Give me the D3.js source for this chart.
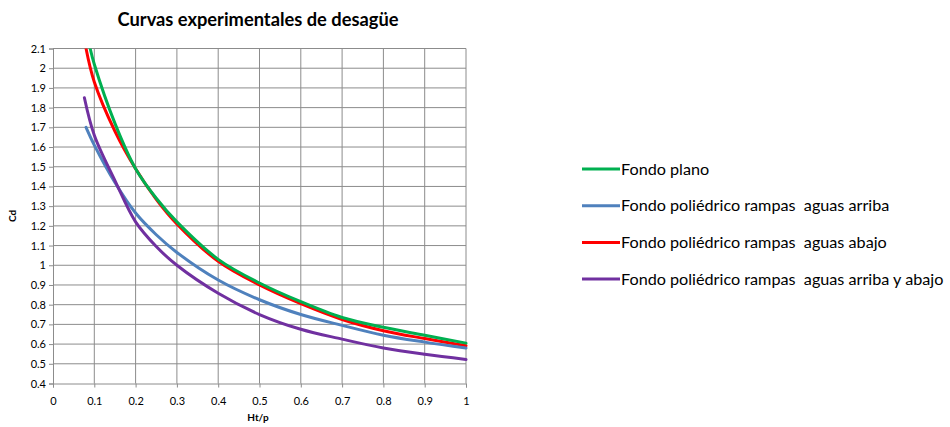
<!DOCTYPE html>
<html>
<head>
<meta charset="utf-8">
<script src="https://cdn.jsdelivr.net/npm/d3@7"></script>
<style>
  body { margin: 0; background: #fff; }
  text { font-family: Lato, "Open Sans", sans-serif; fill: #000; }
</style>
</head>
<body>
<div id="chart"></div>
<script>
// Datos
const seriesNames = ['Fondo plano', 'Fondo poliédrico rampas  aguas arriba', 'Fondo poliédrico rampas  aguas abajo', 'Fondo poliédrico rampas  aguas arriba y abajo'];
const seriesColors = ['#00b050', '#4f81bd', '#ff0000', '#7030a0'];

const planoX = [0.09, 0.1, 0.15, 0.2, 0.25, 0.3, 0.4, 0.5, 0.6, 0.7, 0.8, 0.9, 1.0];
const planoY = [2.1, 2.02, 1.72, 1.49, 1.34, 1.22, 1.03, 0.91, 0.815, 0.735, 0.685, 0.645, 0.605];
const arribaX = [0.08, 0.1, 0.15, 0.2, 0.25, 0.3, 0.4, 0.5, 0.6, 0.7, 0.8, 0.9, 1.0];
const arribaY = [1.7, 1.61, 1.42, 1.265, 1.155, 1.065, 0.925, 0.825, 0.75, 0.695, 0.645, 0.61, 0.58];
const abajoX = [0.08, 0.1, 0.15, 0.2, 0.25, 0.3, 0.4, 0.5, 0.6, 0.7, 0.8, 0.9, 1.0];
const abajoY = [2.1, 1.93, 1.68, 1.49, 1.335, 1.21, 1.02, 0.9, 0.805, 0.725, 0.668, 0.628, 0.592];
const ambosX = [0.076, 0.1, 0.15, 0.2, 0.25, 0.3, 0.4, 0.5, 0.6, 0.7, 0.8, 0.9, 1.0];
const ambosY = [1.85, 1.66, 1.43, 1.22, 1.095, 1.0, 0.858, 0.75, 0.675, 0.625, 0.58, 0.548, 0.522];

const xTicks = [0, 0.1, 0.2, 0.3, 0.4, 0.5, 0.6, 0.7, 0.8, 0.9, 1];
const yTicks = [0.4, 0.5, 0.6, 0.7, 0.8, 0.9, 1, 1.1, 1.2, 1.3, 1.4, 1.5, 1.6, 1.7, 1.8, 1.9, 2, 2.1];

const config = {
  width: 950,
  height: 427,
  plot: { left: 53, right: 466, top: 48.5, bottom: 383.5 },
  legend: { x: 582, y: 169, step: 36.7, lineLen: 38 }
};

const svg = d3.select('#chart').append('svg')
  .attr('width', config.width)
  .attr('height', config.height);

const xScale = d3.scaleLinear().domain([0, 1]).range([config.plot.left, config.plot.right]);
const yScale = d3.scaleLinear().domain([0.4, 2.1]).range([config.plot.bottom, config.plot.top]);

// Rejilla
const grid = svg.append('g').attr('class', 'grid');
grid.selectAll('line.v')
  .data(xTicks.slice(1))
  .enter().append('line')
  .attr('x1', d => xScale(d)).attr('x2', d => xScale(d))
  .attr('y1', config.plot.top).attr('y2', config.plot.bottom)
  .attr('stroke', '#8c8c8c').attr('stroke-width', 1);
grid.selectAll('line.h')
  .data(yTicks.slice(1))
  .enter().append('line')
  .attr('x1', config.plot.left).attr('x2', config.plot.right)
  .attr('y1', d => yScale(d)).attr('y2', d => yScale(d))
  .attr('stroke', '#8c8c8c').attr('stroke-width', 1);

// Ejes
const xAxis = svg.append('g')
  .attr('transform', `translate(0,${config.plot.bottom})`)
  .call(d3.axisBottom(xScale).tickValues(xTicks).tickSize(4).tickPadding(10).tickFormat(d3.format('~g')));
const yAxis = svg.append('g')
  .attr('transform', `translate(${config.plot.left},0)`)
  .call(d3.axisLeft(yScale).tickValues(yTicks).tickSize(4).tickPadding(3).tickFormat(d3.format('~g')));
[xAxis, yAxis].forEach(a => {
  a.select('.domain').attr('stroke', '#8c8c8c');
  a.selectAll('.tick line').attr('stroke', '#8c8c8c');
  a.selectAll('.tick text').attr('font-size', 11).attr('font-family', 'Lato, sans-serif').attr('fill', '#000');
});

// Curvas
svg.append('clipPath').attr('id', 'clip')
  .append('rect')
  .attr('x', config.plot.left).attr('y', config.plot.top)
  .attr('width', config.plot.right - config.plot.left + 2)
  .attr('height', config.plot.bottom - config.plot.top);

const series = [
  { i: 2, xs: abajoX, ys: abajoY },
  { i: 1, xs: arribaX, ys: arribaY },
  { i: 0, xs: planoX, ys: planoY },
  { i: 3, xs: ambosX, ys: ambosY }
];

const line = d3.line()
  .x(d => xScale(d[0]))
  .y(d => yScale(d[1]))
  .curve(d3.curveCatmullRom.alpha(0.5));

svg.append('g').attr('clip-path', 'url(#clip)')
  .selectAll('path')
  .data(series)
  .enter().append('path')
  .attr('d', s => line(s.xs.map((x, k) => [x, s.ys[k]])))
  .attr('fill', 'none')
  .attr('stroke', s => seriesColors[s.i])
  .attr('stroke-width', 3)
  .attr('stroke-linecap', 'round');

// Títulos
svg.append('text')
  .attr('x', 258).attr('y', 26)
  .attr('text-anchor', 'middle')
  .attr('font-size', 18.3).attr('font-weight', 'bold')
  .text('Curvas experimentales de desagüe');

svg.append('text')
  .attr('x', 258).attr('y', 421)
  .attr('text-anchor', 'middle')
  .attr('font-size', 10).attr('font-weight', 'bold')
  .text('Ht/p');

svg.append('text')
  .attr('transform', `translate(16,${(config.plot.top + config.plot.bottom) / 2}) rotate(-90)`)
  .attr('text-anchor', 'middle')
  .attr('font-size', 10).attr('font-weight', 'bold')
  .text('Cd');

// Leyenda
const legend = svg.append('g')
  .selectAll('g')
  .data(seriesNames)
  .enter().append('g')
  .attr('transform', (d, i) => `translate(${config.legend.x},${config.legend.y + i * config.legend.step})`);
legend.append('line')
  .attr('x1', 0).attr('x2', config.legend.lineLen)
  .attr('stroke', (d, i) => seriesColors[i])
  .attr('stroke-width', 3);
legend.append('text')
  .attr('x', config.legend.lineLen + 1).attr('y', 5.5)
  .attr('font-size', 16.2)
  .style('white-space', 'pre')
  .attr('xml:space', 'preserve')
  .text(d => d);
</script>
</body>
</html>
